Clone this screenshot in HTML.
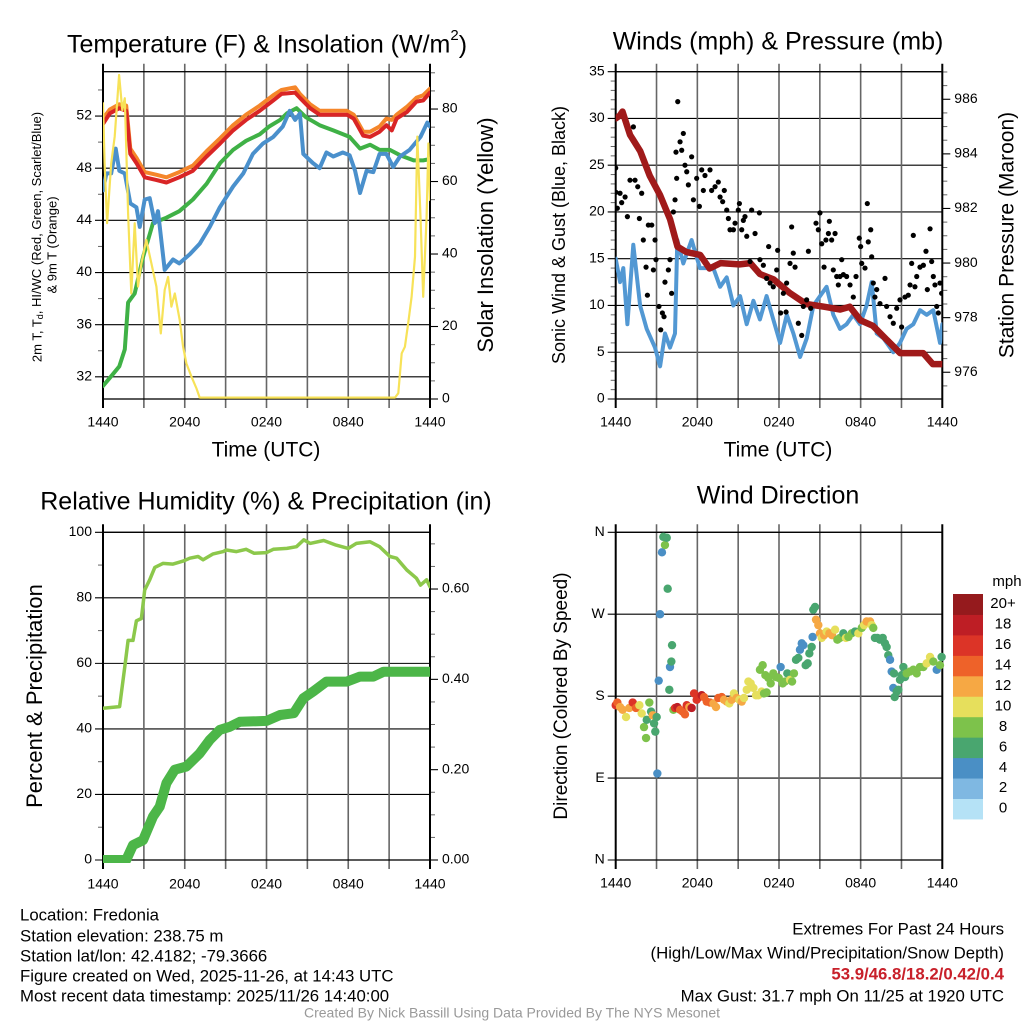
<!DOCTYPE html>
<html><head><meta charset="utf-8"><style>
html,body{margin:0;padding:0;background:#fff;}
svg{display:block;font-family:"Liberation Sans",sans-serif;}
</style></head><body>
<svg id="chart" width="1024" height="1024" viewBox="0 0 1024 1024" xmlns="http://www.w3.org/2000/svg">
<rect x="0" y="0" width="1024" height="1024" fill="#fff"/>
<text x="267" y="46" font-size="25" text-anchor="middle" dominant-baseline="middle">Temperature (F) &amp; Insolation (W/m<tspan font-size="15" dy="-10">2</tspan><tspan dy="10">)</tspan></text>
<text x="778" y="43" font-size="25" text-anchor="middle" dominant-baseline="middle">Winds (mph) &amp; Pressure (mb)</text>
<text x="266" y="503" font-size="25" text-anchor="middle" dominant-baseline="middle">Relative Humidity (%) &amp; Precipitation (in)</text>
<text x="778" y="497" font-size="25" text-anchor="middle" dominant-baseline="middle">Wind Direction</text>

<text x="266" y="451" font-size="21" text-anchor="middle" dominant-baseline="middle">Time (UTC)</text>
<text x="778" y="451" font-size="21" text-anchor="middle" dominant-baseline="middle">Time (UTC)</text>

<text transform="translate(38,237) rotate(-90)" font-size="13" text-anchor="middle" dominant-baseline="middle">2m T, T<tspan font-size="9" dy="3">d</tspan><tspan dy="-3">, HI/WC (Red, Green, Scarlet/Blue)</tspan></text>
<text transform="translate(53,245) rotate(-90)" font-size="13" text-anchor="middle" dominant-baseline="middle">&amp; 9m T (Orange)</text>
<text transform="translate(487,235) rotate(-90)" font-size="22" text-anchor="middle" dominant-baseline="middle">Solar Insolation (Yellow)</text>
<text transform="translate(560,235) rotate(-90)" font-size="18" text-anchor="middle" dominant-baseline="middle">Sonic Wind &amp; Gust (Blue, Black)</text>
<text transform="translate(1008,235) rotate(-90)" font-size="21" text-anchor="middle" dominant-baseline="middle">Station Pressure (Maroon)</text>
<text transform="translate(36,696) rotate(-90)" font-size="22" text-anchor="middle" dominant-baseline="middle">Percent &amp; Precipitation</text>
<text transform="translate(562,696) rotate(-90)" font-size="19" text-anchor="middle" dominant-baseline="middle">Direction (Colored By Speed)</text>

<g font-size="16.8" dominant-baseline="middle">
<text x="20" y="916">Location: Fredonia</text>
<text x="20" y="937">Station elevation: 238.75 m</text>
<text x="20" y="957">Station lat/lon: 42.4182; -79.3666</text>
<text x="20" y="977">Figure created on Wed, 2025-11-26, at 14:43 UTC</text>
<text x="20" y="997">Most recent data timestamp: 2025/11/26 14:40:00</text>
</g>
<g font-size="16.8" text-anchor="end" dominant-baseline="middle">
<text x="1004" y="930">Extremes For Past 24 Hours</text>
<text x="1004" y="954">(High/Low/Max Wind/Precipitation/Snow Depth)</text>
<text x="1004" y="975" fill="#c8202a" font-weight="bold">53.9/46.8/18.2/0.42/0.4</text>
<text x="1004" y="997">Max Gust: 31.7 mph On 11/25 at 1920 UTC</text>
</g>
<text x="512" y="1014" font-size="14" fill="#999" text-anchor="middle" dominant-baseline="middle">Created By Nick Bassill Using Data Provided By The NYS Mesonet</text>
</svg>
<script>
// ---------- data ----------
const xTickHours = [0, 6, 12, 18, 24];
const xTickLabels = ["1440", "2040", "0240", "0840", "1440"];

const redT = [0,0.5,1.2,1.7,2.0,2.45,3.06,3.9,4.65,5.6,6.6,7.6,8.6,9.55,10.5,11.5,12.5,13.1,14.1,14.45,15.2,15.9,16.9,17.9,18.4,19.1,19.6,20.3,20.8,21.2,21.55,22.3,23.0,23.5,24];
const redTemp = [51.4,52.2,52.6,52.4,49.1,48.4,47.3,47.1,46.9,47.3,47.8,48.9,49.9,50.9,51.7,52.4,53.2,53.7,53.8,53.4,52.6,52.1,52.1,52.1,51.8,50.5,50.4,50.8,51.3,50.9,51.8,52.3,53.1,53.2,53.8];
const orangeTemp = [51.8,52.5,52.9,52.8,49.5,48.8,47.7,47.5,47.3,47.7,48.2,49.3,50.3,51.3,52.1,52.8,53.6,54.0,54.2,53.7,52.9,52.4,52.4,52.4,52.1,50.8,50.8,51.2,51.8,51.7,52.1,52.7,53.4,53.6,54.1];
const greenT = [0,0.73,1.2,1.6,1.84,2.33,2.94,3.67,4.65,5.6,6.6,7.6,8.6,9.55,10.5,11.5,12.2,13.0,13.5,14.2,14.9,15.9,16.9,18.1,18.86,19.6,20.3,21.06,21.8,22.8,23.5,24];
const greenDew = [31.3,32.2,32.8,34.1,37.7,38.4,41.2,43.8,44.2,44.7,45.6,46.8,48.4,49.4,50.1,50.6,51.2,51.7,52.2,52.6,51.9,51.3,50.9,50.4,49.5,49.8,49.4,49.4,49.0,48.6,48.6,48.7];
const blueT = [0,0.25,0.6,0.93,1.2,1.6,2.0,2.45,2.7,3.06,3.43,3.8,4.04,4.53,5.14,5.6,6.37,7.1,7.84,8.57,9.55,10.3,11.0,11.75,12.5,13.2,13.7,14.1,14.45,14.7,15.4,15.9,16.4,16.9,17.6,18.1,18.5,18.86,19.35,19.84,20.3,20.8,21.3,21.8,22.5,23.3,23.8,24];
const blueHiWc = [46.3,47.6,47.6,49.5,47.8,47.6,45.3,45.0,43.5,45.6,45.7,43.8,44.7,40.2,41.0,40.7,41.4,42.2,43.5,45.0,46.6,47.6,49.1,49.9,50.4,51.2,52.4,51.7,52.2,49.1,48.4,48.0,49.2,48.9,49.2,49.0,47.8,46.1,47.8,47.7,49.1,49.1,48.1,48.9,49.4,50.4,51.5,51.2];
const solarT = [0,0.12,0.3,0.6,0.86,1.18,1.42,1.6,1.84,2.08,2.33,2.57,2.82,3.18,3.55,3.92,4.24,4.53,4.78,5.02,5.27,5.63,5.88,6.12,6.49,6.86,7.1,21.43,21.67,21.92,22.16,22.4,22.65,22.9,23.07,23.3,23.5,23.75,23.88,24];
const solarRad = [81.6,65,48.5,65,72.4,89.4,79.7,83,51.2,29.1,48.5,31,37.4,43.9,37.4,31,18.1,30.1,33.7,25.5,29.1,21.8,14.4,9.8,6.2,2.9,0.4,0.4,1.6,12.6,14.4,20.9,28.2,39.3,72.4,50.3,28.2,50.3,70.5,54.9];

const windT = [0,0.32,0.56,0.86,1.29,1.79,2.28,2.89,3.26,3.62,3.99,4.36,4.53,4.97,5.58,6.19,7.17,7.67,8.16,8.65,9.14,9.63,10.12,10.6,11.09,11.58,12.08,12.57,13.06,13.55,14.04,14.53,15.01,15.5,15.99,16.48,16.97,17.46,17.95,18.44,18.81,19.18,19.67,20.4,20.89,21.38,21.87,22.36,22.85,23.34,23.83,24];
const windSpd = [15,12.5,14,8,16.5,10,7.5,5.5,3.5,7,5.5,7,17,14.5,17,14,14,12,13,10,11,8,10.5,8.5,11,8.5,6,9,7,4.5,6.5,10,11,12,9,7.5,8,9,8,10,12.5,7,6.5,5,6,7.5,8,9.5,9,9.5,6,8];
const presT = [0,0.3,0.5,1.05,1.8,2.5,3.25,4.0,4.54,5.2,6.2,6.9,7.7,9.1,9.9,10.6,11.6,12.8,14.0,15.3,16.5,17.2,18.0,18.9,19.9,20.9,21.9,22.6,23.3,24];
const presMb = [985.3,985.4,985.55,984.7,984.1,983.2,982.5,981.6,980.6,980.4,980.3,979.8,980.0,979.95,980.0,979.6,979.4,978.9,978.5,978.4,978.3,978.4,977.9,977.7,977.2,976.7,976.7,976.7,976.3,976.3];
const gustT = [0,0.02,0.12,0.32,0.44,0.69,0.86,1.05,1.3,1.42,1.62,1.74,1.91,2.03,2.23,2.4,2.65,2.77,2.89,2.33,2.96,3.18,3.31,3.43,3.55,3.62,3.87,3.99,4.11,4.24,4.36,4.48,4.56,4.43,4.73,4.85,4.97,5.09,5.22,5.34,5.58,5.71,5.95,6.15,6.32,6.44,6.56,6.93,7.05,7.3,7.54,7.67,7.86,7.98,8.16,8.28,8.4,8.65,8.77,9.01,9.09,9.26,9.38,9.5,9.63,9.87,9.99,10.24,10.56,10.6,10.85,11.09,11.24,11.34,11.58,11.83,11.9,12.12,12.32,12.52,12.56,12.81,12.93,13.05,13.18,13.42,13.67,13.79,14.03,14.16,14.33,14.72,14.89,15.01,15.14,15.31,15.45,15.63,15.7,15.87,15.99,16.12,16.24,16.36,16.48,16.61,16.73,16.97,17.22,17.46,17.66,17.9,18.0,18.08,18.32,18.49,18.56,18.74,18.81,18.93,19.05,19.18,19.42,19.79,19.91,20.16,20.4,20.65,20.89,21.01,21.26,21.5,21.63,21.75,21.87,21.99,22.12,22.36,22.61,22.8,22.9,23.1,23.22,23.34,23.46,23.59,23.71,23.83,23.95];
const gustSpd = [24.7,22.1,20.4,22,21,21.6,19.5,23.4,29.1,23.4,22.7,19.3,22,17,14.1,18.6,18.6,13.8,17,11.1,14.9,9.9,7.4,9.2,8.8,12.5,13.8,14.9,11.3,20,21.3,23.6,31.8,26.4,27.5,26.6,28.4,25,24.3,22.9,25.9,21.3,23.6,20.6,24.5,22.3,23.9,24.5,22.3,22.7,23.2,21.6,21.1,22.3,20.2,19.3,18.1,18.1,18.8,20.2,20.9,18.1,19.1,19.5,17.4,14.7,20.2,17.7,19.9,14.9,14.3,12.9,16.3,12.4,12,13.8,15.9,9.2,11.3,9.3,12.4,14.5,18.4,15.6,14.1,8.1,6.8,9.9,10.6,15.8,9.7,18.8,18.1,19.9,16.6,14.1,17,17.7,19,17,13.8,17.7,13.1,12.2,13.1,14.9,13.3,13.1,12.2,10.9,13.1,17.2,16.3,14.5,14,20.9,16.8,18.1,15.2,12.4,10.9,11.7,10.2,12.9,9.9,8.8,8.1,9.7,10.6,7.7,10.9,11.1,12.2,14.5,17.5,12,13.1,14.1,14.3,15.8,11.7,18.2,14.7,13.1,12.2,9.9,9.2,12.4,11.3];

const rhT = [0,1.22,1.6,1.84,2.2,2.45,2.82,3.06,3.43,3.8,4.4,5.14,5.88,6.37,6.98,7.35,8.08,8.82,9.06,9.8,10.5,11.1,12.0,12.5,13.5,14.2,14.74,15.2,16.2,17.1,18.0,18.6,19.6,20.3,21.06,21.55,22.3,23.0,23.3,23.75,24];
const rhPct = [46.3,46.8,59,67,67,73,73.7,82.4,85.5,89.3,90.5,90.3,91.2,92.1,92.6,91.6,93.4,94.1,94.6,94.1,94.8,93.6,93.8,94.8,95.1,95.6,97.7,96.6,97.5,96.1,95.1,96.6,97.1,95.6,92.6,92.1,88.5,86,83.9,85.5,83.4];
const precipT = [0,1.7,2.2,2.94,3.67,4.16,4.65,5.27,6.12,7.1,7.84,8.57,9.3,10.04,12.0,13.0,14.0,14.7,15.43,16.4,17.9,18.86,19.84,20.6,24];
const precipIn = [0,0,0.033,0.044,0.096,0.118,0.17,0.2,0.207,0.236,0.266,0.288,0.295,0.306,0.308,0.321,0.325,0.358,0.373,0.395,0.395,0.406,0.406,0.417,0.417];

const dirT = [0,0.12,0.32,0.51,0.76,1.0,1.25,1.49,1.74,1.91,2.08,2.23,2.28,2.47,2.6,2.72,2.82,2.91,3.01,3.06,3.16,3.26,3.4,3.5,3.62,3.75,3.82,3.99,4.09,4.14,3.94,4.24,4.36,4.53,4.73,4.92,5.09,5.22,5.41,5.58,5.76,5.95,6.15,6.32,6.49,6.69,6.93,7.18,7.37,7.54,7.79,7.96,8.16,8.35,8.52,8.69,8.89,9.09,9.26,9.43,9.63,9.75,9.92,10.12,10.31,10.48,10.72,10.9,11.09,10.6,10.8,11.0,11.22,11.39,11.58,11.78,11.98,12.12,12.27,12.44,12.61,12.81,12.96,13.1,13.25,13.42,13.54,13.67,13.79,13.96,14.11,14.23,14.4,14.47,14.52,14.65,14.72,14.89,15.01,15.14,15.31,15.5,15.7,15.9,16.12,16.29,16.48,16.73,16.92,17.1,17.34,17.59,17.83,18.08,18.25,18.44,18.69,18.81,18.93,19.05,19.23,19.42,19.62,19.79,19.91,20.03,20.16,20.28,20.45,20.4,20.5,20.65,20.77,20.89,21.01,21.14,21.26,21.38,21.63,21.87,22.12,22.36,22.61,22.85,23.1,23.34,23.59,23.83,23.95];
const dirDeg = [170,173,168,165,157,167,173,167,170,161,146,134,154,173,163,159,150,141,157,95,197,270,338,355,346,354,298,212,218,236,187,165,167,168,165,163,160,170,168,167,183,176,179,181,179,174,173,172,168,178,179,176,174,172,176,183,178,176,174,178,187,196,194,189,181,181,185,183,184,209,214,203,200,194,205,201,200,212,194,196,205,198,196,205,220,222,231,238,236,214,216,227,234,245,275,278,264,258,249,244,247,251,249,247,253,242,244,249,244,245,249,251,249,255,258,262,262,258,255,244,244,242,244,238,234,225,220,207,205,189,179,185,187,198,203,212,201,205,207,209,205,212,212,216,223,218,209,214,223];
const dirSpd = [16,15,12,12,10,13,16,14,11,10,8,8,7,8,6,12,6,6,6,4,4,4,4,6,8,6,6,4,6,6,6,8,16,18,14,14,14,16,12,18,16,16,16,18,14,14,14,12,12,14,14,12,12,10,12,10,12,10,12,10,10,10,10,10,10,10,10,8,8,8,8,8,8,8,8,8,8,4,8,8,6,10,8,8,6,6,4,4,4,6,6,6,6,4,6,6,12,12,12,10,12,10,12,12,10,8,8,6,10,8,8,6,10,8,10,12,12,10,8,6,6,6,6,6,6,6,4,4,6,4,6,6,6,6,6,6,6,8,8,8,8,8,8,10,10,8,4,8,6];

const speedBinLabels = ["0","2","4","6","8","10","12","14","16","18","20+"];
const speedBinColors = ["#b5e2f6","#7fb8e2","#4a8fc5","#49a66f","#7dc24b","#e6df5c","#f6a844","#ee6229","#dc3427","#be1e25","#951a1d"];

// ---------- helpers ----------
const NS = 'http://www.w3.org/2000/svg';
const svg = document.getElementById('chart');
function mk(tag, attrs, parent) {
  const e = document.createElementNS(NS, tag);
  for (const k in attrs) e.setAttribute(k, attrs[k]);
  (parent || svg).appendChild(e);
  return e;
}
function xScale(p, t) { return p.x0 + (t / 24) * (p.x1 - p.x0); }
function yScale(p, v, dom) { return p.y1 - (v - dom[0]) / (dom[1] - dom[0]) * (p.y1 - p.y0); }

const P1 = {x0:103, x1:430, y0:71.7, y1:399, L:[30.3,55.4], R:[0,90.3], xlab:423, id:'temp'};
const P2 = {x0:615.7, x1:942.3, y0:71.7, y1:399, L:[0,35], R:[975.02,987.01], xlab:423, id:'wind'};
const P3 = {x0:103, x1:430, y0:532.3, y1:860, L:[0,100], R:[0,0.7256], xlab:885, id:'rh'};
const P4 = {x0:615.7, x1:942.3, y0:532.3, y1:860, L:[0,360], R:null, xlab:884, id:'dir'};

function axes(p, lMaj, lMin, lFmt, rMaj, rMin, rFmt) {
  const g = mk('g', {});
  
  
  lMaj.forEach((v, i) => {
    const y = yScale(p, v, p.L);
    const ln = mk('line', {x1:p.x0-8, x2:p.x1, y1:y, y2:y, stroke:'#000', 'stroke-width':1.1}, g);
    
    
    const tx = mk('text', {x:p.x0-11, y:y, 'font-size':14, 'text-anchor':'end', 'dominant-baseline':'middle'}, g);
    tx.textContent = lFmt[i];
    
    
  });
  lMin.forEach(v => {
    const y = yScale(p, v, p.L);
    const ln = mk('line', {x1:p.x0-5, x2:p.x0, y1:y, y2:y, stroke:'#666', 'stroke-width':1}, g);
    
    
  });
  if (rMaj) {
    rMaj.forEach((v, i) => {
      const y = yScale(p, v, p.R);
      const ln = mk('line', {x1:p.x1, x2:p.x1+8, y1:y, y2:y, stroke:'#000', 'stroke-width':1.1}, g);
      
      
      const tx = mk('text', {x:p.x1+12, y:y, 'font-size':14, 'dominant-baseline':'middle'}, g);
      tx.textContent = rFmt[i];
      
      
    });
    rMin.forEach(v => {
      const y = yScale(p, v, p.R);
      const ln = mk('line', {x1:p.x1, x2:p.x1+5, y1:y, y2:y, stroke:'#666', 'stroke-width':1}, g);
      
      
    });
  }
  for (let h = 0; h <= 24; h += 3) {
    const x = xScale(p, h);
    const edge = (h === 0 || h === 24);
    const ln = mk('line', {x1:x, x2:x, y1:p.y0-8, y2:p.y1+9, stroke: edge ? '#000' : '#666', 'stroke-width': edge ? 2 : 1.6}, g);
    
    
  }
  const fr = mk('rect', {x:p.x0, y:p.y0, width:p.x1-p.x0, height:p.y1-p.y0, fill:'none', stroke:'#000', 'stroke-width':1.3}, g);
  
  
  xTickHours.forEach((h, i) => {
    const tx = mk('text', {x:xScale(p, h), y:p.xlab, 'font-size':14, 'text-anchor':'middle', 'dominant-baseline':'middle'}, g);
    tx.textContent = xTickLabels[i];
    
    
  });
  const cp = mk('clipPath', {id:'clip-' + p.id});
  mk('rect', {x:p.x0, y:p.y0-3, width:p.x1-p.x0, height:p.y1-p.y0+6}, cp);
}
function range(a, b, s) { const r = []; for (let v = a; v <= b + 1e-9; v += s) r.push(+v.toFixed(4)); return r; }

function line(p, ts, vs, dom, color, w, name) {
  const pts = ts.map((t, i) => xScale(p, t).toFixed(1) + ',' + yScale(p, vs[i], dom).toFixed(1)).join(' ');
  const pl = mk('polyline', {points:pts, fill:'none', stroke:color, 'stroke-width':w, 'stroke-linejoin':'round', 'stroke-linecap':'round', 'clip-path':'url(#clip-' + p.id + ')'});
  
  
}

// ---------- panel 1 ----------
axes(P1, range(32,52,4), range(34,54,4), ["32","36","40","44","48","52"],
     range(0,80,20), range(5,90,5).filter(v => v % 20 !== 0), ["0","20","40","60","80"]);
line(P1, redT, orangeTemp, P1.L, '#f5862a', 4, 'orange-9m-temperature-line');
line(P1, redT, redTemp, P1.L, '#d92526', 4, 'red-2m-temperature-line');
line(P1, greenT, greenDew, P1.L, '#3fb146', 4, 'green-dewpoint-line');
line(P1, blueT, blueHiWc, P1.L, '#4a90cc', 4, 'blue-wind-chill-line');
line(P1, solarT, solarRad, P1.R, '#f7e258', 2.2, 'yellow-insolation-line');

// ---------- panel 2 ----------
axes(P2, range(0,35,5), range(1,35,1).filter(v => v % 5 !== 0), ["0","5","10","15","20","25","30","35"],
     range(976,986,2), range(975.5,987,0.5).filter(v => v % 2 !== 0), ["976","978","980","982","984","986"]);
line(P2, windT, windSpd, P2.L, '#5298d3', 4, 'sonic-wind-line');
line(P2, presT, presMb, P2.R, '#a01a1a', 6.5, 'station-pressure-line');
gustT.forEach((t, i) => {
  const c = mk('circle', {cx:xScale(P2, t), cy:yScale(P2, gustSpd[i], P2.L), r:2.6, fill:'#000', 'clip-path':'url(#clip-wind)'});
  
  
});

// ---------- panel 3 ----------
axes(P3, range(0,100,20), range(10,90,20), ["0","20","40","60","80","100"],
     range(0,0.6,0.2), range(0.05,0.7,0.05).filter(v => Math.abs(v/0.2 - Math.round(v/0.2)) > 0.01), ["0.00","0.20","0.40","0.60"]);
line(P3, rhT, rhPct, P3.L, '#8cc84b', 3.5, 'relative-humidity-line');
line(P3, precipT, precipIn, P3.R, '#4cb648', 10, 'precipitation-line');

// ---------- panel 4 ----------
axes(P4, [0,90,180,270,360], [], ["N","E","S","W","N"], null, null, null);
dirT.forEach((t, i) => {
  const bin = Math.min(10, Math.floor(dirSpd[i] / 2));
  const c = mk('circle', {cx:xScale(P4, t), cy:yScale(P4, dirDeg[i], P4.L), r:4.2, fill:speedBinColors[bin]});
  
  
});
const cb = mk('g', {});


const cbTop = 594, cbH = 20.45;
speedBinLabels.forEach((lab, i) => {
  const k = speedBinLabels.length - 1 - i;
  const y = cbTop + k * cbH;
  const r = mk('rect', {x:953, y:y, width:30, height:cbH + 0.5, fill:speedBinColors[i]}, cb);
  
  
  const tx = mk('text', {x:1003, y:y + cbH/2, 'font-size':15, 'text-anchor':'middle', 'dominant-baseline':'middle'}, cb);
  tx.textContent = lab;
  
  
});
const mph = mk('text', {x:1007, y:582, 'font-size':15, 'text-anchor':'middle', 'dominant-baseline':'middle'}, cb);
mph.textContent = 'mph';


</script>
</body></html>
